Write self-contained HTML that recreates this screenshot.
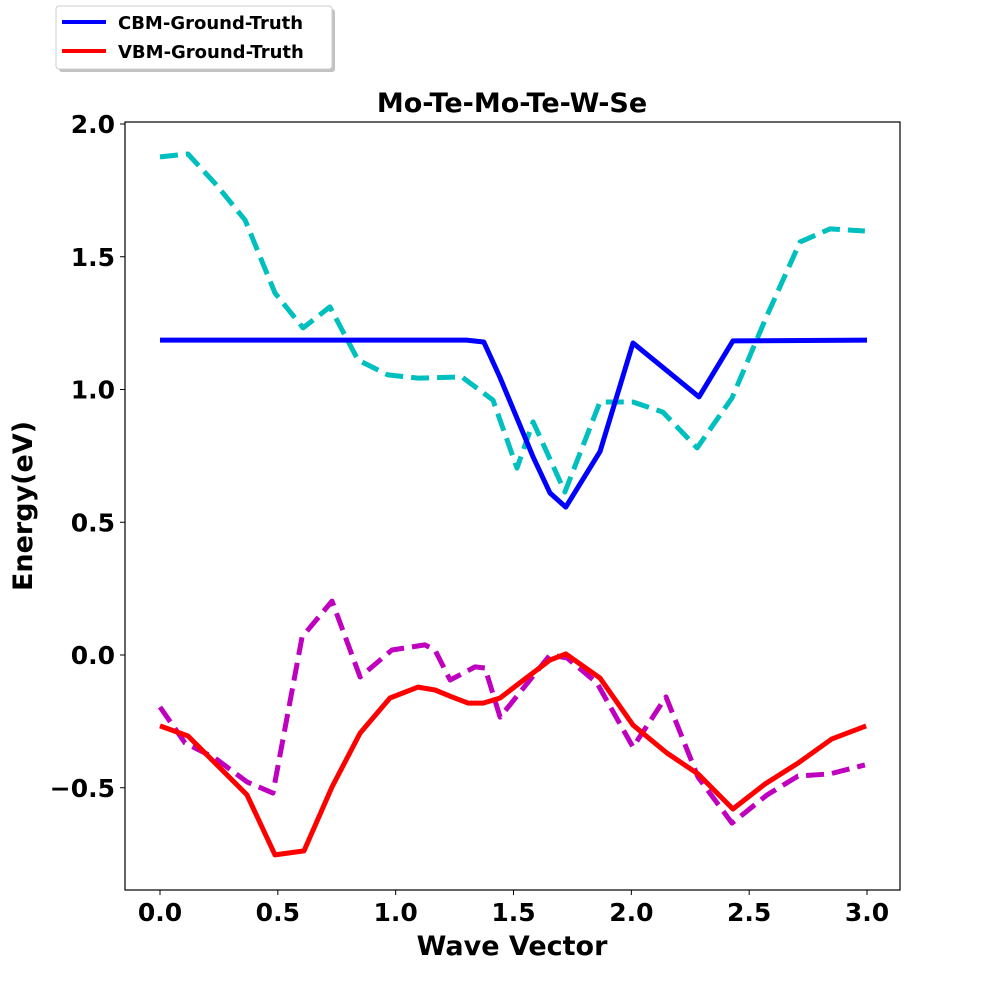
<!DOCTYPE html>
<html><head><meta charset="utf-8"><style>
body{margin:0;background:#fff;width:1000px;height:1000px;overflow:hidden;font-family:"Liberation Sans","DejaVu Sans",sans-serif}
</style></head><body>
<svg id="chart" width="1000" height="1000" viewBox="0 0 1000 1000" xmlns="http://www.w3.org/2000/svg" font-family="'DejaVu Sans','Liberation Sans',sans-serif" font-weight="bold">
<rect x="0" y="0" width="1000" height="1000" fill="#fff"/>
<g id="marks"></g>
<rect x="125" y="122" width="775" height="768" fill="none" stroke="#000" stroke-width="1.2"/>
<g id="axes"></g>
<text x="512" y="112" text-anchor="middle" font-size="27">Mo-Te-Mo-Te-W-Se</text>
<text x="512" y="955" text-anchor="middle" font-size="27">Wave Vector</text>
<text x="32" y="506" text-anchor="middle" font-size="27" transform="rotate(-90 32 506)">Energy(eV)</text>
<g>
<rect x="59" y="9" width="276" height="63" rx="3" fill="#999" opacity="0.6"/>
<rect x="56" y="6" width="276" height="63" rx="3" fill="#fff" stroke="#ccc"/>
<g><line x1="62" y1="22" x2="106" y2="22" stroke="#0000ff" stroke-width="4"/><text x="118" y="29" font-size="18">CBM-Ground-Truth</text></g>
<g><line x1="62" y1="51" x2="106" y2="51" stroke="#ff0000" stroke-width="4"/><text x="118" y="58" font-size="18">VBM-Ground-Truth</text></g>
</g>
</svg>
<script>
const cbmX=[0,1.30,1.374,1.442,1.583,1.655,1.722,1.867,2.007,2.287,2.431,3.0];
const cbmY=[1.186,1.186,1.179,1.047,0.746,0.610,0.557,0.766,1.175,0.972,1.183,1.186];
const cbmPredX=[0,0.119,0.24,0.361,0.488,0.607,0.721,0.840,0.967,1.095,1.281,1.413,1.515,1.583,1.718,1.867,2.007,2.134,2.279,2.427,2.571,2.716,2.843,2.991];
const cbmPredY=[1.876,1.887,1.77,1.638,1.363,1.232,1.311,1.111,1.055,1.043,1.047,0.960,0.704,0.878,0.614,0.953,0.953,0.915,0.780,0.968,1.269,1.556,1.605,1.597];
const vbmX=[0,0.119,0.369,0.488,0.611,0.730,0.849,0.976,1.095,1.167,1.239,1.307,1.371,1.443,1.515,1.655,1.722,1.867,2.007,2.151,2.283,2.431,2.567,2.707,2.851,2.996];
const vbmY=[-0.267,-0.305,-0.527,-0.753,-0.738,-0.497,-0.294,-0.162,-0.121,-0.132,-0.158,-0.181,-0.181,-0.162,-0.113,-0.019,0.004,-0.087,-0.264,-0.369,-0.448,-0.580,-0.486,-0.407,-0.316,-0.267];
const vbmPredX=[0,0.106,0.233,0.369,0.479,0.603,0.730,0.849,0.984,1.124,1.167,1.231,1.337,1.379,1.443,1.655,1.727,1.854,2.007,2.147,2.283,2.427,2.576,2.707,2.843,2.991];
const vbmPredY=[-0.196,-0.331,-0.388,-0.478,-0.520,0.068,0.203,-0.083,0.019,0.038,0.019,-0.094,-0.045,-0.049,-0.234,0.000,-0.011,-0.105,-0.347,-0.158,-0.460,-0.633,-0.527,-0.456,-0.448,-0.414];
const xTicks=[0,0.5,1.0,1.5,2.0,2.5,3.0];
const xTickLabels=["0.0","0.5","1.0","1.5","2.0","2.5","3.0"];
const yTicks=[-0.5,0,0.5,1.0,1.5,2.0];
const yTickLabels=["\u22120.5","0.0","0.5","1.0","1.5","2.0"];

const NS="http://www.w3.org/2000/svg";
function sx(v){return 160+v*235.67;}
function sy(v){return 655-v*265.5;}
const marks=document.getElementById('marks');
const axes=document.getElementById('axes');
function drawLine(xs,ys,color,dash,name){
  const p=document.createElementNS(NS,'polyline');
  p.setAttribute('points',xs.map((x,i)=>sx(x).toFixed(1)+','+sy(ys[i]).toFixed(1)).join(' '));
  p.setAttribute('fill','none');p.setAttribute('stroke',color);p.setAttribute('stroke-width','5');
  p.setAttribute('stroke-linejoin','round');
  if(dash)p.setAttribute('stroke-dasharray','18,8');
  
  
  marks.appendChild(p);
}
drawLine(cbmPredX,cbmPredY,'#00bfbf',true,'cbm-predicted-line');
drawLine(vbmPredX,vbmPredY,'#bf00bf',true,'vbm-predicted-line');
drawLine(cbmX,cbmY,'#0000ff',false,'cbm-ground-truth-line');
drawLine(vbmX,vbmY,'#ff0000',false,'vbm-ground-truth-line');
xTicks.forEach((t,i)=>{
  const l=document.createElementNS(NS,'line');
  l.setAttribute('x1',sx(t));l.setAttribute('x2',sx(t));l.setAttribute('y1',890);l.setAttribute('y2',895);l.setAttribute('stroke','#000');
  
  
  axes.appendChild(l);
  const tx=document.createElementNS(NS,'text');
  tx.setAttribute('x',sx(t));tx.setAttribute('y',921);tx.setAttribute('text-anchor','middle');tx.setAttribute('font-size','25');
  tx.textContent=xTickLabels[i];
  
  
  axes.appendChild(tx);
});
yTicks.forEach((t,i)=>{
  const l=document.createElementNS(NS,'line');
  l.setAttribute('x1',120);l.setAttribute('x2',125);l.setAttribute('y1',sy(t));l.setAttribute('y2',sy(t));l.setAttribute('stroke','#000');
  
  
  axes.appendChild(l);
  const tx=document.createElementNS(NS,'text');
  tx.setAttribute('x',115);tx.setAttribute('y',sy(t)+9);tx.setAttribute('text-anchor','end');tx.setAttribute('font-size','25');
  tx.textContent=yTickLabels[i];
  
  
  axes.appendChild(tx);
});
</script>
</body></html>
